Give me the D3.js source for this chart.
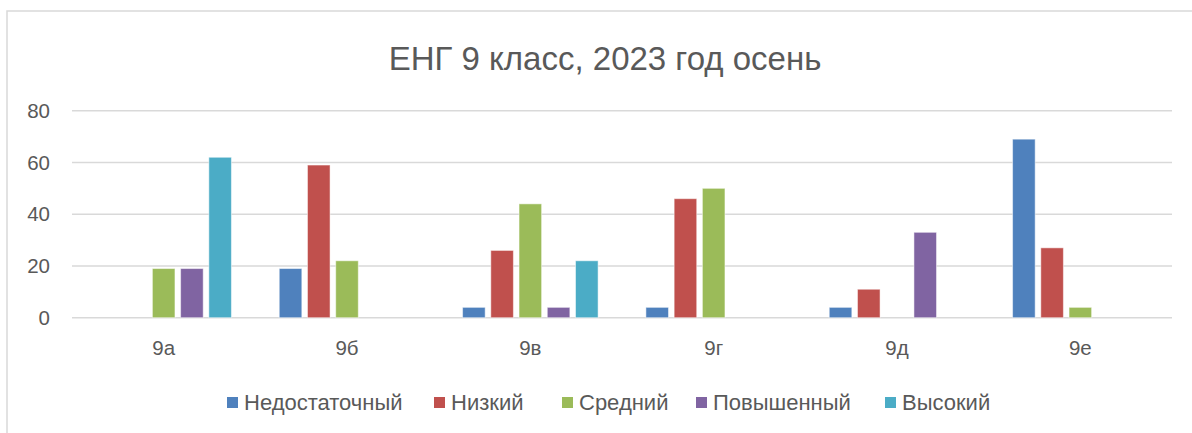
<!DOCTYPE html>
<html lang="ru">
<head>
<meta charset="UTF-8">
<title>ЕНГ 9 класс</title>
<script src="https://cdnjs.cloudflare.com/ajax/libs/d3/7.8.5/d3.min.js"></script>
<style>
    * { margin: 0; padding: 0; }
    body { background: #fff; }
    svg text { font-family: "Liberation Sans", Arial, sans-serif; fill: #595959; }
    .grid line { stroke: #d9d9d9; stroke-width: 1.5; }
</style>
</head>
<body>
<svg id="chart" width="1192" height="433"></svg>
<script>
    // data
    var classes = ["9а", "9б", "9в", "9г", "9д", "9е"];
    var levels = ["Недостаточный", "Низкий", "Средний", "Повышенный", "Высокий"];
    var colors = ["#4F81BD", "#C0504D", "#9BBB59", "#8064A2", "#4BACC6"];
    var nedost = [0, 19, 4, 4, 4, 69];
    var nizkiy = [0, 59, 26, 46, 11, 27];
    var sredniy = [19, 22, 44, 50, 0, 4];
    var povysh = [19, 0, 4, 0, 33, 0];
    var vysokiy = [62, 0, 22, 0, 0, 0];
    var yTicks = [0, 20, 40, 60, 80];

    var series = [nedost, nizkiy, sredniy, povysh, vysokiy];

    var svg = d3.select("#chart");
    var plotLeft = 72, plotRight = 1172, plotTop = 110.7, plotBottom = 317.7;

    // outer frame (cut off right and bottom like the screenshot)
    svg.append("rect")
        .attr("x", 7).attr("y", 11)
        .attr("width", 1250).attr("height", 500)
        .attr("fill", "none")
        .attr("stroke", "#d9d9d9")
        .attr("stroke-width", 1.5);

    svg.append("text")
        .attr("x", 605).attr("y", 70)
        .attr("text-anchor", "middle")
        .style("font-size", "33px")
        .text("ЕНГ 9 класс, 2023 год осень");

    var y = d3.scaleLinear().domain([0, 80]).range([plotBottom, plotTop]);

    var x0 = d3.scaleBand().domain(classes).range([plotLeft, plotRight])
        .paddingInner(0.23).paddingOuter(0.115);
    var x1 = d3.scaleBand().domain(levels).range([0, x0.bandwidth()])
        .paddingInner(0.2).paddingOuter(0.1);

    // gridlines
    svg.append("g").attr("class", "grid")
        .selectAll("line").data(yTicks).enter().append("line")
        .attr("x1", plotLeft).attr("x2", plotRight)
        .attr("y1", function(d) { return y(d); })
        .attr("y2", function(d) { return y(d); });

    // y labels
    var yAxis = d3.axisLeft(y).tickValues(yTicks).tickSize(0).tickPadding(22);
    var yg = svg.append("g").attr("transform", "translate(" + plotLeft + ",0)").call(yAxis);
    yg.select(".domain").remove();
    yg.selectAll("text").style("font-size", "20.5px").attr("font-family", null);

    // x labels
    var xAxis = d3.axisBottom(x0).tickSize(0).tickPadding(23);
    var xg = svg.append("g").attr("transform", "translate(0," + plotBottom + ")").call(xAxis);
    xg.select(".domain").remove();
    xg.selectAll("text").style("font-size", "20.5px").attr("font-family", null);

    // bars (zero values are not drawn)
    series.forEach(function(vals, si) {
        var rows = vals.map(function(v, i) { return { cls: classes[i], v: v }; })
            .filter(function(r) { return r.v > 0; });
        svg.append("g").selectAll("rect")
            .data(rows).enter().append("rect")
            .attr("x", function(d) { return x0(d.cls) + x1(levels[si]); })
            .attr("y", function(d) { return y(d.v); })
            .attr("width", x1.bandwidth())
            .attr("height", function(d) { return y(0) - y(d.v); })
            .attr("fill", colors[si])
            .attr("stroke", "#fff")
            .attr("stroke-opacity", 0.5)
            .attr("stroke-width", 1);
    });

    // legend
    var legendX = [227, 434, 562, 696, 885];
    var lg = svg.append("g");
    levels.forEach(function(name, i) {
        var g = lg.append("g").attr("transform", "translate(" + legendX[i] + ",397)");
        g.append("rect").attr("width", 11).attr("height", 11).attr("fill", colors[i]);
        g.append("text").attr("x", 17).attr("y", 12.5).style("font-size", "22px").text(name);
    });
</script>
</body>
</html>
